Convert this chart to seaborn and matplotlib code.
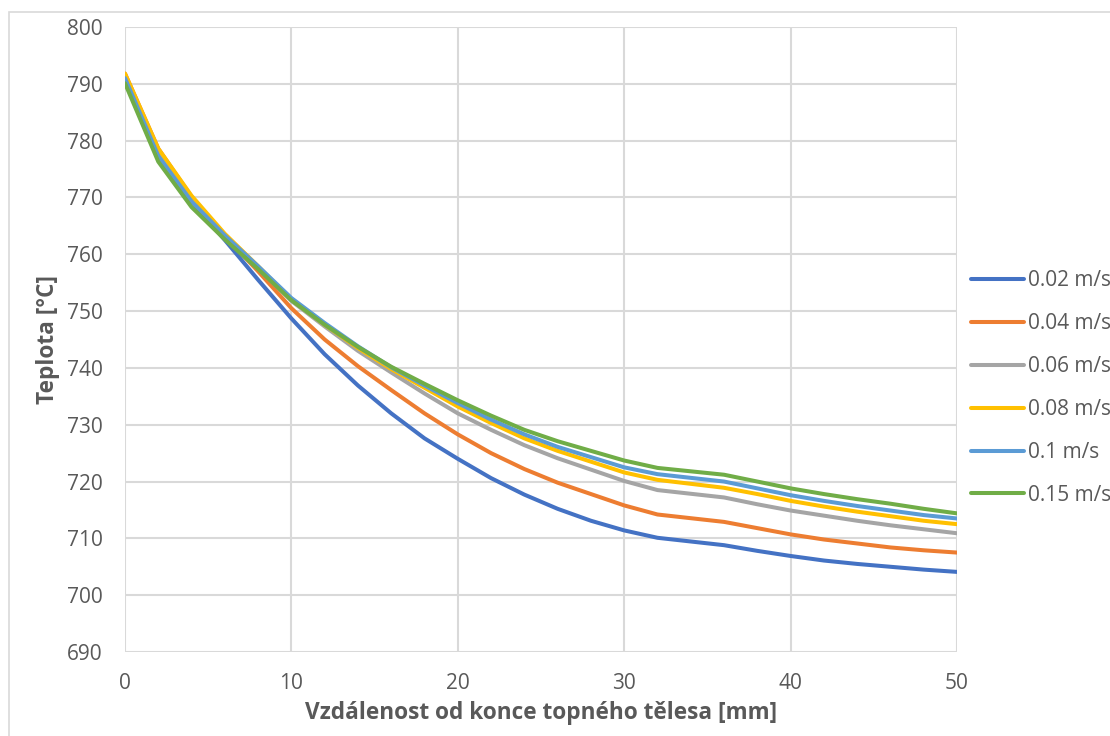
import matplotlib
matplotlib.use("Agg")
import matplotlib.pyplot as plt
import seaborn as sns
import pandas as pd
from matplotlib.patches import Rectangle

# distance from end of heater [mm]
distance = [0, 2, 4, 6, 8, 10, 12, 14, 16, 18, 20, 22, 24, 26, 28, 30, 32, 36, 38, 40, 42, 44, 46, 48, 50]

# temperature [°C] for each air velocity
t_002 = [791.0, 777.5, 769.3, 762.5, 755.5, 748.7, 742.4, 736.9, 732.0, 727.6, 724.0, 720.6, 717.7, 715.2, 713.1, 711.4, 710.1, 708.8, 707.8, 706.9, 706.1, 705.5, 705.0, 704.5, 704.1]
t_004 = [791.8, 778.6, 770.1, 763.2, 757.0, 750.5, 745.0, 740.3, 736.1, 732.0, 728.3, 725.0, 722.2, 719.8, 717.8, 715.8, 714.2, 712.9, 711.8, 710.7, 709.8, 709.1, 708.4, 707.9, 707.5]
t_006 = [791.5, 778.2, 769.9, 763.4, 757.6, 751.8, 747.3, 743.0, 739.2, 735.5, 732.0, 729.1, 726.4, 724.1, 722.1, 720.1, 718.5, 717.2, 716.0, 714.9, 714.0, 713.1, 712.3, 711.6, 710.9]
t_008 = [791.8, 778.6, 770.3, 763.6, 757.9, 752.0, 747.6, 743.5, 739.8, 736.5, 733.2, 730.3, 727.6, 725.4, 723.5, 721.6, 720.3, 718.9, 717.8, 716.6, 715.6, 714.7, 713.9, 713.1, 712.5]
t_010 = [791.0, 777.3, 769.3, 763.3, 757.9, 752.3, 747.9, 743.8, 740.1, 736.9, 733.8, 730.9, 728.3, 726.1, 724.3, 722.5, 721.3, 720.0, 718.8, 717.6, 716.6, 715.7, 714.9, 714.1, 713.5]
t_015 = [790.1, 776.3, 768.3, 762.6, 757.4, 751.9, 747.6, 743.7, 740.2, 737.2, 734.3, 731.6, 729.1, 727.1, 725.4, 723.7, 722.4, 721.2, 720.0, 718.8, 717.8, 716.9, 716.1, 715.2, 714.4]

labels = ["0.02 m/s", "0.04 m/s", "0.06 m/s", "0.08 m/s", "0.1 m/s", "0.15 m/s"]
colors = ["#4472C4", "#ED7D31", "#A5A5A5", "#FFC000", "#5B9BD5", "#70AD47"]

series = [t_002, t_004, t_006, t_008, t_010, t_015]
df = pd.concat([pd.DataFrame({"x": distance, "T": s, "v": lab}) for s, lab in zip(series, labels)])

sns.set_theme(style="white")
plt.rcParams["font.family"] = ["Open Sans", "DejaVu Sans"]

fig = plt.figure(figsize=(11.1, 7.36), dpi=100)
ax = fig.add_axes([125 / 1110, 1 - 652 / 736, 832 / 1110, 625 / 736])

sns.lineplot(data=df, x="x", y="T", hue="v", palette=colors, linewidth=2.9,
             sort=False, ax=ax, legend=True)

ax.set_xlim(0, 50)
ax.set_ylim(690, 800)
ax.set_xticks(range(0, 51, 10))
ax.set_yticks(range(690, 801, 10))
ax.grid(True, color="#D9D9D9", linewidth=1.5)
ax.set_axisbelow(True)
for sp in ax.spines.values():
    sp.set_visible(False)
ax.tick_params(length=0, labelsize=15, labelcolor="#595959")
ax.tick_params(axis="x", pad=15)
ax.tick_params(axis="y", pad=16)

ax.set_xlabel("Vzdálenost od konce topného tělesa [mm]", fontsize=16.3, fontweight="bold",
              color="#595959", labelpad=5)
ax.set_ylabel("Teplota [°C]", fontsize=16.3, fontweight="bold", color="#595959", labelpad=5)

handles, _ = ax.get_legend_handles_labels()
leg = ax.legend(handles, labels, loc="upper left", bbox_to_anchor=(963 / 1110, 1 - 262 / 736),
                bbox_transform=fig.transFigure, frameon=False, fontsize=15,
                handlelength=2.55, handletextpad=0.15, labelspacing=1.05, borderaxespad=0)
for t in leg.get_texts():
    t.set_color("#595959")

# outer chart frame
fig.patches.append(Rectangle((9 / 1110, -0.1), 1.2, 1.1 - 12 / 736, transform=fig.transFigure,
                             fill=False, edgecolor="#D9D9D9", linewidth=1.2))

fig.savefig("out.png", dpi=100)
